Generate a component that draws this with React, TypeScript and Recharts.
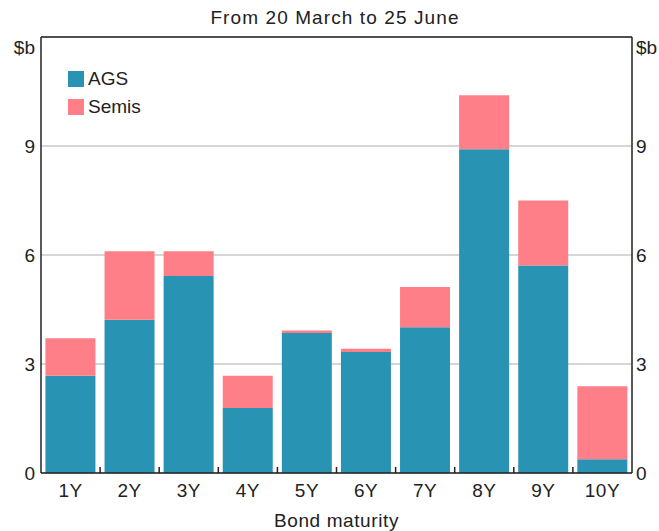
import React from "react";
import {
  ComposedChart,
  Bar,
  Line,
  XAxis,
  YAxis,
  CartesianGrid,
  ReferenceLine,
} from "recharts";

const MATURITIES = ["1Y", "2Y", "3Y", "4Y", "5Y", "6Y", "7Y", "8Y", "9Y", "10Y"];
const AGS = [2.68, 4.22, 5.42, 1.79, 3.85, 3.33, 4.01, 8.91, 5.71, 0.38];
const SEMIS = [1.03, 1.88, 0.68, 0.89, 0.07, 0.09, 1.11, 1.49, 1.79, 2.01];
const Y_TICKS = [0, 3, 6, 9, 12];

const AGS_COLOR = "#2993b4";
const SEMIS_COLOR = "#ff7f88";
const FONT = '"Liberation Sans", Arial, sans-serif';

const data = MATURITIES.map((name, i) => ({
  name,
  AGS: AGS[i],
  Semis: SEMIS[i],
}));

const XTick = (props: any) => {
  const { x, y, payload, index, width, visibleTicksCount } = props;
  const step = width / (visibleTicksCount || MATURITIES.length);
  return (
    <g>
      {index > 0 && (
        <line
          x1={x - step / 2}
          x2={x - step / 2}
          y1={y}
          y2={y - 6}
          stroke="#222"
          strokeWidth={1.5}
        />
      )}
      <text
        x={x}
        y={y + 24}
        textAnchor="middle"
        fill="#222"
        fontSize={19}
        letterSpacing={0.5}
        fontFamily={FONT}
      >
        {payload.value}
      </text>
    </g>
  );
};

const YTick = (props: any) => {
  const { x, y, payload, textAnchor } = props;
  const isTop = payload.value === 12;
  return (
    <text
      x={x}
      y={isTop ? y + 17 : y + 7}
      textAnchor={textAnchor}
      fill="#222"
      fontSize={19}
      fontFamily={FONT}
    >
      {isTop ? "$b" : payload.value}
    </text>
  );
};

const LEGEND_ITEMS = [
  { label: "AGS", color: AGS_COLOR },
  { label: "Semis", color: SEMIS_COLOR },
];

export default function App() {
  return (
    <div
      style={{
        position: "absolute",
        left: 0,
        top: 0,
        width: 659,
        height: 531,
        background: "#fff",
      }}
    >
      <ComposedChart
        width={659}
        height={531}
        data={data}
        margin={{ top: 37, right: 0, left: 0, bottom: 0 }}
        barCategoryGap="7.5%"
      >
        <CartesianGrid
          vertical={false}
          stroke="#c8c8c8"
          strokeWidth={1.5}
          yAxisId="left"
        />
        <XAxis
          dataKey="name"
          height={58}
          axisLine={{ stroke: "#222", strokeWidth: 1.5 }}
          tickLine={false}
          tickSize={0}
          tickMargin={0}
          interval={0}
          tick={<XTick />}
          label={{
            value: "Bond maturity",
            position: "insideBottom",
            offset: 4,
            fill: "#222",
            fontSize: 19,
            letterSpacing: 0.6,
            fontFamily: FONT,
          }}
        />
        <YAxis
          yAxisId="left"
          width={41}
          domain={[0, 12]}
          ticks={Y_TICKS}
          interval={0}
          axisLine={{ stroke: "#222", strokeWidth: 1.5 }}
          tickLine={false}
          tickSize={0}
          tickMargin={6}
          tick={<YTick />}
        />
        <YAxis
          yAxisId="right"
          orientation="right"
          width={27}
          domain={[0, 12]}
          ticks={Y_TICKS}
          interval={0}
          axisLine={{ stroke: "#222", strokeWidth: 1.5 }}
          tickLine={false}
          tickSize={0}
          tickMargin={4}
          tick={<YTick />}
        />
        <ReferenceLine
          yAxisId="left"
          y={12}
          stroke="#222"
          strokeWidth={1.5}
        />
        <Bar
          yAxisId="left"
          dataKey="AGS"
          stackId="a"
          fill={AGS_COLOR}
          isAnimationActive={false}
        />
        <Bar
          yAxisId="left"
          dataKey="Semis"
          stackId="a"
          fill={SEMIS_COLOR}
          isAnimationActive={false}
        />
        <Line
          yAxisId="right"
          dataKey="AGS"
          stroke="none"
          dot={false}
          activeDot={false}
          legendType="none"
          isAnimationActive={false}
        />
      </ComposedChart>
      <div
        style={{
          position: "absolute",
          left: 0,
          top: 7,
          width: 670,
          textAlign: "center",
          fontFamily: FONT,
          fontSize: 19,
          letterSpacing: 1.1,
          color: "#222",
        }}
      >
        From 20 March to 25 June
      </div>
      <div
        style={{
          position: "absolute",
          left: 68,
          top: 65,
          fontFamily: FONT,
          fontSize: 19,
          color: "#222",
        }}
      >
        {LEGEND_ITEMS.map((it) => (
          <div
            key={it.label}
            style={{ display: "flex", alignItems: "center", height: 28 }}
          >
            <span
              style={{
                display: "inline-block",
                width: 16,
                height: 16,
                background: it.color,
                marginRight: 4,
              }}
            />
            {it.label}
          </div>
        ))}
      </div>
    </div>
  );
}
